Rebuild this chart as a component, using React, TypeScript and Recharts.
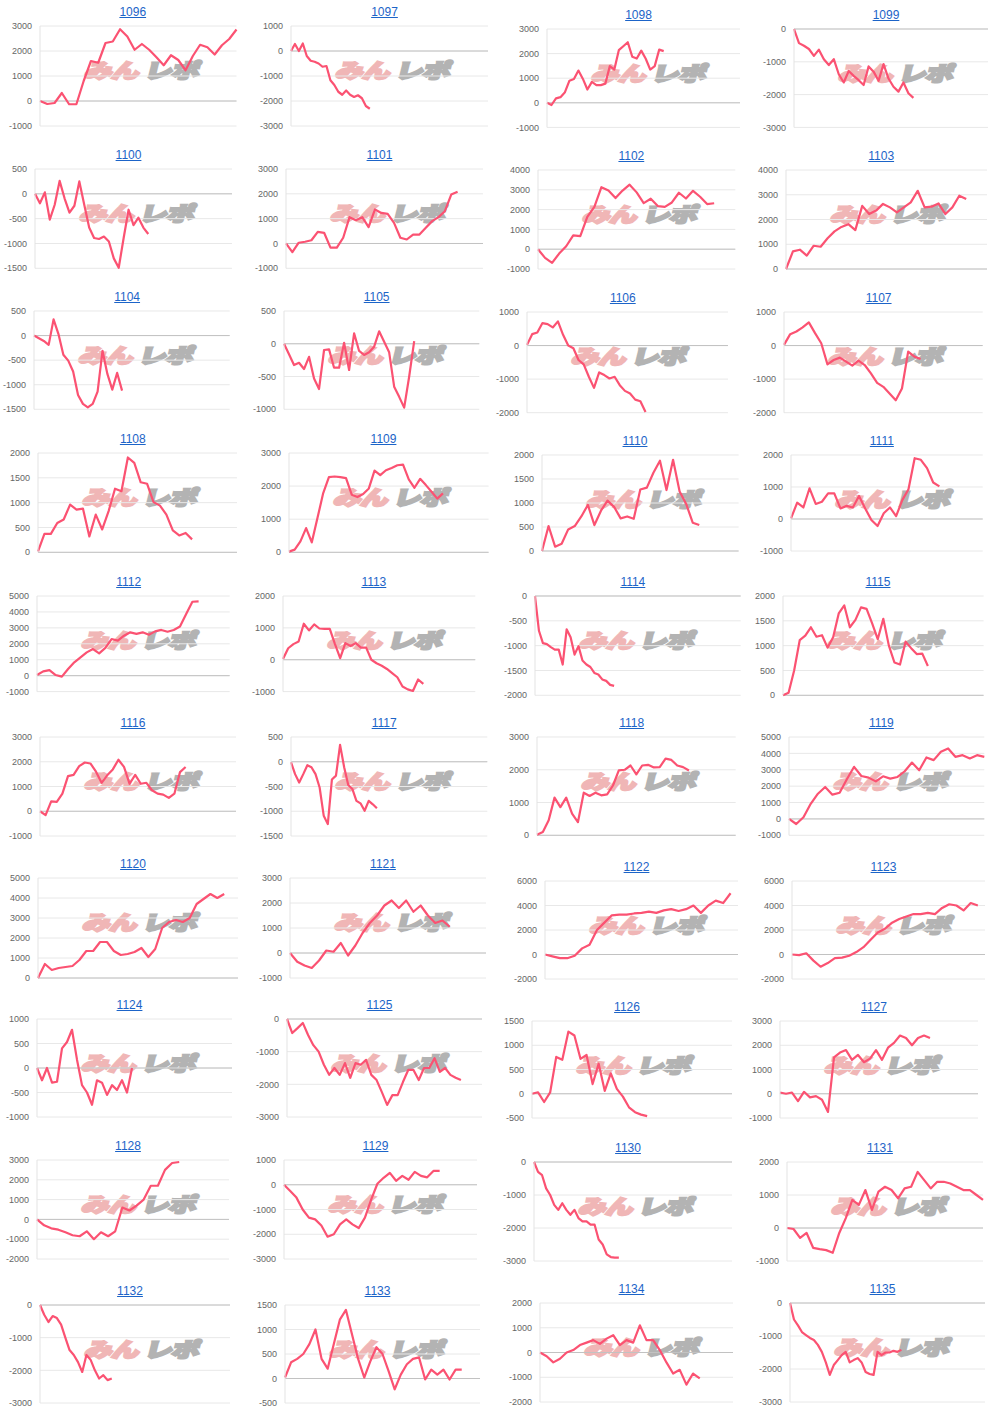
import React from 'react';
import { LineChart, Line, XAxis, YAxis, CartesianGrid, ReferenceLine } from 'recharts';

// ---------- data: one series per machine ----------
const s1096 = [0, -120, -80, 320, -130, -130, 800, 1600, 1530, 2320, 2380, 2870, 2580, 2050, 2280, 2050, 1750, 1430, 1830, 1640, 1230, 1800, 2250, 2150, 1860, 2230, 2480, 2860];
const s1097 = [0, 280, 0, 300, -200, -390, -430, -500, -630, -600, -1170, -1360, -1630, -1750, -1580, -1750, -1840, -1770, -1890, -2200, -2310];
const s1098 = [0, -90, 180, 230, 430, 900, 970, 1310, 970, 540, 850, 720, 720, 780, 1490, 1350, 2140, 2300, 2460, 1870, 1800, 2120, 1790, 1350, 1490, 2160, 2100];
const s1099 = [0, -430, -510, -610, -820, -630, -920, -1100, -920, -1380, -1630, -1280, -1430, -1560, -1710, -1140, -1300, -1580, -1070, -1510, -1760, -1910, -1630, -1960, -2100];
const s1100 = [0, -190, 30, -520, -220, 260, -90, -380, -240, 250, -220, -680, -890, -910, -860, -960, -1300, -1490, -890, -320, -630, -480, -680, -810];
const s1101 = [0, -350, 30, 70, 130, 470, 430, -170, -170, 230, 1060, 940, 1060, 660, 1370, 1230, 1190, 830, 230, 160, 360, 360, 630, 900, 1060, 1300, 1970, 2080];
const s1102 = [0, -440, -690, -220, 150, 700, 660, 1630, 2140, 3130, 2960, 2580, 2960, 3260, 2870, 2330, 2550, 2180, 2140, 2360, 2850, 2560, 2950, 2650, 2280, 2320];
const s1103 = [0, 710, 780, 540, 940, 900, 1240, 1520, 1700, 1810, 1570, 2550, 2220, 2360, 2630, 2490, 2290, 2490, 2690, 3160, 2490, 2520, 2650, 2220, 2490, 2960, 2830];
const s1104 = [0, -55, -110, -190, 330, 30, -390, -510, -730, -1210, -1390, -1460, -1390, -1140, -310, -780, -1100, -760, -1120];
const s1105 = [0, -160, -325, -290, -385, -200, -530, -690, -95, -85, -365, -365, 15, -400, 160, -110, -170, -130, -45, 190, 30, -130, -655, -810, -975, -500, 40];
const s1106 = [20, 340, 390, 670, 640, 540, 720, 320, 0, -80, -430, -560, -930, -1260, -800, -880, -980, -930, -1180, -1350, -1430, -1610, -1660, -1980];
const s1107 = [20, 340, 420, 540, 690, 370, 70, -560, -430, -360, -480, -600, -450, -580, -830, -1110, -1230, -1430, -1630, -1280, -180, -330, -400];
const s1108 = [20, 370, 370, 590, 660, 960, 860, 880, 320, 760, 460, 830, 1280, 1230, 1910, 1800, 1410, 1380, 1010, 940, 760, 440, 340, 390, 260];
const s1109 = [20, 80, 330, 730, 300, 1040, 1790, 2270, 2290, 2270, 2240, 1740, 1670, 1760, 1930, 2470, 2330, 2480, 2550, 2630, 2650, 2200, 1950, 2220, 2030, 1830, 1620, 1780];
const s1110 = [0, 520, 90, 150, 450, 520, 720, 960, 540, 840, 1050, 920, 680, 720, 670, 1280, 1320, 1630, 1880, 1270, 1900, 1240, 980, 590, 540];
const s1111 = [20, 510, 360, 960, 470, 540, 800, 800, 330, 410, 360, 720, 330, -30, -220, 180, 360, 90, 590, 930, 1900, 1850, 1590, 1140, 1020];
const s1112 = [40, 270, 350, 40, -60, 420, 840, 1150, 1460, 1670, 1400, 1740, 2300, 2200, 2510, 2720, 2620, 2720, 2570, 2780, 2870, 2760, 2870, 3080, 3870, 4640, 4660];
const s1113 = [20, 360, 490, 570, 1130, 920, 1110, 980, 970, 970, 490, 50, 520, 430, 520, 380, 380, 0, -110, -190, -290, -420, -550, -840, -930, -980, -620, -760];
const s1114 = [0, -700, -950, -970, -1030, -1080, -1080, -1380, -670, -830, -1180, -1010, -1300, -1380, -1430, -1550, -1580, -1680, -1710, -1790, -1810];
const s1115 = [0, 50, 500, 1110, 1200, 1370, 1180, 1210, 960, 1170, 1650, 1810, 1370, 1520, 1770, 1740, 1450, 1130, 1540, 1000, 660, 620, 1080, 950, 830, 840, 590];
const s1116 = [0, -160, 400, 380, 710, 1420, 1470, 1820, 1970, 1930, 1600, 1150, 1450, 1690, 2080, 1790, 1110, 1470, 1110, 1150, 850, 710, 670, 540, 710, 1580, 1790];
const s1117 = [-10, -250, -420, -250, -70, -110, -250, -520, -1090, -1260, -360, -280, 340, -110, -470, -550, -790, -840, -990, -790, -860, -940];
const s1118 = [20, 100, 460, 1150, 860, 1150, 660, 400, 1300, 1200, 1300, 1220, 1250, 1520, 1980, 2000, 2130, 1860, 2130, 2150, 2070, 2080, 2340, 2300, 2130, 2080, 1980];
const s1119 = [0, -310, 100, 920, 1540, 1950, 1480, 1600, 2420, 3180, 2620, 2520, 2290, 2600, 2460, 2560, 2910, 3440, 2970, 3750, 3590, 4100, 4300, 3790, 3890, 3690, 3890, 3790];
const s1120 = [0, 700, 400, 500, 550, 600, 900, 1350, 1350, 1800, 1800, 1350, 1150, 1200, 1300, 1500, 1050, 1450, 2500, 2800, 2900, 2800, 3000, 3700, 3950, 4200, 4000, 4200];
const s1121 = [0, -350, -500, -600, -300, 100, 50, 400, -100, 300, 800, 1200, 1500, 1900, 2100, 1800, 2100, 1650, 1900, 1500, 1200, 1300, 1050];
const s1122 = [0, -150, -300, -300, -100, 500, 800, 2000, 2600, 3200, 3250, 3250, 3350, 3400, 3500, 3400, 3600, 3700, 3550, 3700, 4000, 3400, 4000, 4400, 4200, 5000];
const s1123 = [0, -50, 100, -500, -1000, -700, -300, -250, -100, 200, 600, 1200, 1800, 2100, 2600, 2900, 3100, 3300, 3300, 3400, 3300, 3800, 4100, 4000, 3600, 4200, 4000];
const s1124 = [0, -250, 0, -300, -280, 400, 530, 780, 170, -350, -500, -750, -250, -300, -550, -350, -450, -250, -500, 0];
const s1125 = [0, -430, -280, -120, -490, -800, -1000, -1400, -1710, -1500, -1710, -1350, -1800, -1350, -1400, -1250, -1710, -1870, -2240, -2630, -2330, -2330, -1930, -1560, -1560, -1870, -1500, -1500, -1200, -1620, -1500, -1710, -1800, -1870];
const s1126 = [0, 30, -170, 30, 760, 700, 1280, 1200, 720, 800, 200, 620, 60, 420, 100, -60, -280, -380, -430, -460];
const s1127 = [50, 0, 50, -300, 80, -150, -100, -250, -750, 1500, 1700, 1800, 1400, 1600, 1300, 1450, 1800, 1400, 1900, 2100, 2400, 2300, 2000, 2300, 2400, 2300];
const s1128 = [0, -300, -450, -520, -650, -800, -850, -600, -1000, -650, -850, -600, 600, 450, 700, 1000, 1700, 1700, 2500, 2850, 2900];
const s1129 = [0, -250, -520, -1000, -1330, -1400, -1650, -2100, -2000, -1600, -1400, -1600, -1750, -1330, -600, 40, 280, 480, 160, 360, 200, 520, 360, 300, 560, 560];
const s1130 = [0, -300, -400, -800, -1000, -1300, -1450, -1250, -1450, -1600, -1450, -1700, -1800, -1800, -1900, -1900, -2350, -2500, -2800, -2880, -2900, -2900];
const s1131 = [0, -30, -300, -150, -600, -640, -670, -750, -150, 300, 850, 700, 1150, 550, 1100, 1250, 1150, 900, 1200, 1250, 1700, 1450, 1200, 1400, 1400, 1350, 1250, 1150, 1150, 1000, 850];
const s1132 = [0, -300, -520, -340, -400, -600, -1000, -1380, -1530, -1750, -2050, -1530, -1680, -2000, -2250, -2150, -2300, -2250];
const s1133 = [20, 330, 400, 500, 700, 1000, 400, 200, 700, 1200, 1400, 900, 400, 20, 350, 640, 500, 150, -220, 80, 290, 400, 430, -20, 180, 80, 180, -20, 180, 180];
const s1134 = [0, -150, -400, -250, 0, 100, 300, 400, 500, 350, 560, 700, 300, 500, 400, 1100, 500, 500, 100, -400, -850, -700, -1300, -850, -1050];
const s1135 = [0, -500, -680, -880, -970, -1060, -1120, -1270, -1480, -1800, -2180, -1880, -1730, -1580, -1480, -1800, -1730, -1670, -1800, -2090, -2150, -2180, -1480, -1580, -1500, -1500, -1450, -1480, -1420];

// ---------- y-axis tick labels ----------
const tA = [-1000, 0, 1000, 2000, 3000];
const tB = [-3000, -2000, -1000, 0, 1000];
const tC = [-3000, -2000, -1000, 0];
const tD = [-1500, -1000, -500, 0, 500];
const tE = [-1000, 0, 1000, 2000, 3000, 4000];
const tF = [0, 1000, 2000, 3000, 4000];
const tG = [-1000, -500, 0, 500];
const tH = [-2000, -1000, 0, 1000];
const tI = [0, 500, 1000, 1500, 2000];
const tJ = [0, 1000, 2000, 3000];
const tK = [-1000, 0, 1000, 2000];
const tL = [-1000, 0, 1000, 2000, 3000, 4000, 5000];
const tM = [-2000, -1500, -1000, -500, 0];
const tN = [0, 1000, 2000, 3000, 4000, 5000];
const tO = [-2000, 0, 2000, 4000, 6000];
const tP = [-1000, -500, 0, 500, 1000];
const tQ = [-500, 0, 500, 1000, 1500];
const tR = [-2000, -1000, 0, 1000, 2000, 3000];
const tS = [-2000, -1000, 0, 1000, 2000];

const CHARTS = [
  { id: '1096', values: s1096, ticks: tA, slots: 28 },
  { id: '1097', values: s1097, ticks: tB, slots: 51 },
  { id: '1098', values: s1098, ticks: tA, slots: 44 },
  { id: '1099', values: s1099, ticks: tC, slots: 40 },
  { id: '1100', values: s1100, ticks: tD, slots: 41 },
  { id: '1101', values: s1101, ticks: tA, slots: 32 },
  { id: '1102', values: s1102, ticks: tE, slots: 29 },
  { id: '1103', values: s1103, ticks: tF, slots: 30 },
  { id: '1104', values: s1104, ticks: tD, slots: 41 },
  { id: '1105', values: s1105, ticks: tG, slots: 40 },
  { id: '1106', values: s1106, ticks: tH, slots: 40 },
  { id: '1107', values: s1107, ticks: tH, slots: 33 },
  { id: '1108', values: s1108, ticks: tI, slots: 32 },
  { id: '1109', values: s1109, ticks: tJ, slots: 36 },
  { id: '1110', values: s1110, ticks: tI, slots: 31 },
  { id: '1111', values: s1111, ticks: tK, slots: 32 },
  { id: '1112', values: s1112, ticks: tL, slots: 32 },
  { id: '1113', values: s1113, ticks: tK, slots: 38 },
  { id: '1114', values: s1114, ticks: tM, slots: 53 },
  { id: '1115', values: s1115, ticks: tI, slots: 37 },
  { id: '1116', values: s1116, ticks: tA, slots: 36 },
  { id: '1117', values: s1117, ticks: tD, slots: 49 },
  { id: '1118', values: s1118, ticks: tJ, slots: 35 },
  { id: '1119', values: s1119, ticks: tL, slots: 28 },
  { id: '1120', values: s1120, ticks: tN, slots: 30 },
  { id: '1121', values: s1121, ticks: tA, slots: 28 },
  { id: '1122', values: s1122, ticks: tO, slots: 27 },
  { id: '1123', values: s1123, ticks: tO, slots: 28 },
  { id: '1124', values: s1124, ticks: tP, slots: 40 },
  { id: '1125', values: s1125, ticks: tC, slots: 38 },
  { id: '1126', values: s1126, ticks: tQ, slots: 34 },
  { id: '1127', values: s1127, ticks: tA, slots: 34 },
  { id: '1128', values: s1128, ticks: tR, slots: 28 },
  { id: '1129', values: s1129, ticks: tB, slots: 32 },
  { id: '1130', values: s1130, ticks: tC, slots: 50 },
  { id: '1131', values: s1131, ticks: tK, slots: 31 },
  { id: '1132', values: s1132, ticks: tC, slots: 46 },
  { id: '1133', values: s1133, ticks: tQ, slots: 33 },
  { id: '1134', values: s1134, ticks: tS, slots: 30 },
  { id: '1135', values: s1135, ticks: tC, slots: 50 },
];

// ---------- layout: plot box [left, right, top, bottom] ----------
const LAYOUT: Record<string, number[]> = {
  '1096': [39.5, 236, 26, 126], '1097': [291, 488, 26, 126], '1098': [547, 740, 29.3, 127.7], '1099': [794, 988, 29.3, 127.7],
  '1100': [35, 232, 168.7, 268], '1101': [286, 483, 168.7, 268], '1102': [537.7, 735, 170.3, 269.3], '1103': [785.7, 986.7, 170.3, 269.3],
  '1104': [34.3, 230, 311, 409.3], '1105': [284, 479.3, 311, 409.3], '1106': [527.3, 728.3, 312, 412.7], '1107': [784.3, 983, 312, 412.7],
  '1108': [38.3, 237.3, 453, 552.3], '1109': [288.7, 488.3, 453, 552.3], '1110': [541.7, 738.3, 454.7, 550.7], '1111': [791, 982.7, 454.7, 550.7],
  '1112': [37.3, 230, 595.7, 691.3], '1113': [282.7, 475, 595.7, 691.3], '1114': [535, 740.7, 595.7, 695], '1115': [782.7, 983.3, 595.7, 695],
  '1116': [40, 236, 736.7, 835.7], '1117': [291, 487.3, 736.7, 835.7], '1118': [537.3, 736, 736.7, 835], '1119': [788.7, 984, 736.7, 835],
  '1120': [38, 238, 878, 978], '1121': [290, 486, 878, 978], '1122': [545, 738, 881, 979], '1123': [792, 985, 881, 979],
  '1124': [37, 232, 1019, 1117], '1125': [287, 482, 1019, 1117], '1126': [532, 732, 1021, 1118], '1127': [780, 978, 1021, 1118],
  '1128': [37, 229, 1160, 1259], '1129': [284, 477, 1160, 1259], '1130': [534, 732, 1162, 1261], '1131': [787, 983, 1162, 1261],
  '1132': [40, 230, 1305, 1403], '1133': [285, 480, 1305, 1403], '1134': [540, 733, 1303, 1402], '1135': [790, 985, 1303, 1402],
};

const FONT = '"Liberation Sans", Arial, Helvetica, sans-serif';
const LINE_COLOR = '#fb5272';
const AXIS_W = 40;

type ChartDef = { id: string; values: number[]; ticks: number[]; slots: number };

function Panel({ c }: { c: ChartDef }) {
  const [L, R, T, B] = LAYOUT[c.id];
  const data = c.values.map((v, i) => ({ i, v }));
  const ticks = c.ticks;
  const titleX = (L + R) / 2 - 5;
  return (
    <>
      <div
        style={{
          position: 'absolute',
          left: L + 46,
          top: T + 28,
          height: 30,
          lineHeight: '30px',
          whiteSpace: 'nowrap',
          fontFamily: '"Noto Sans CJK JP", sans-serif',
          fontWeight: 900,
          fontSize: 28,
          letterSpacing: -1,
          transform: 'skewX(-14deg) scaleY(0.72)',
          transformOrigin: 'left center',
          pointerEvents: 'none',
        }}
      >
        <span style={{ color: '#f0b6b6', WebkitTextStroke: '3px #f0b6b6' }}>みん</span>
        <span style={{ color: '#b3b3b3', WebkitTextStroke: '3px #b3b3b3', marginLeft: 6 }}>レポ</span>
      </div>
      <div
        style={{
          position: 'absolute',
          left: titleX - 50,
          width: 100,
          top: T - 14 - 8,
          height: 16,
          lineHeight: '16px',
          textAlign: 'center',
          fontFamily: FONT,
          fontSize: 12,
          color: '#1c64c8',
          textDecoration: 'underline',
        }}
      >
        {c.id}
      </div>
      <div style={{ position: 'absolute', left: L - AXIS_W, top: T - 5 }}>
        <LineChart
          width={R - L + AXIS_W + 5}
          height={B - T + 10}
          data={data}
          margin={{ top: 5, right: 5, bottom: 5, left: 0 }}
        >
          <CartesianGrid vertical={false} stroke="#e8e8e8" />
          <XAxis type="number" dataKey="i" domain={[0, c.slots - 1]} hide />
          <YAxis
            type="number"
            domain={[ticks[0], ticks[ticks.length - 1]]}
            ticks={ticks}
            interval={0}
            width={AXIS_W}
            tickLine={false}
            axisLine={{ stroke: '#e3e3e3' }}
            tick={{ fontSize: 9, fill: '#666', fontFamily: FONT }}
          />
          <ReferenceLine y={0} stroke="#c2c2c2" />
          <Line
            type="linear"
            dataKey="v"
            stroke={LINE_COLOR}
            strokeWidth={2.2}
            strokeLinejoin="round"
            dot={false}
            activeDot={false}
            isAnimationActive={false}
          />
        </LineChart>
      </div>
    </>
  );
}

export default function App() {
  return (
    <div
      style={{
        position: 'absolute',
        left: 0,
        top: 0,
        width: 1000,
        height: 1413,
        background: '#fff',
        overflow: 'hidden',
      }}
    >
      {CHARTS.map((c) => (
        <Panel key={c.id} c={c} />
      ))}
    </div>
  );
}
